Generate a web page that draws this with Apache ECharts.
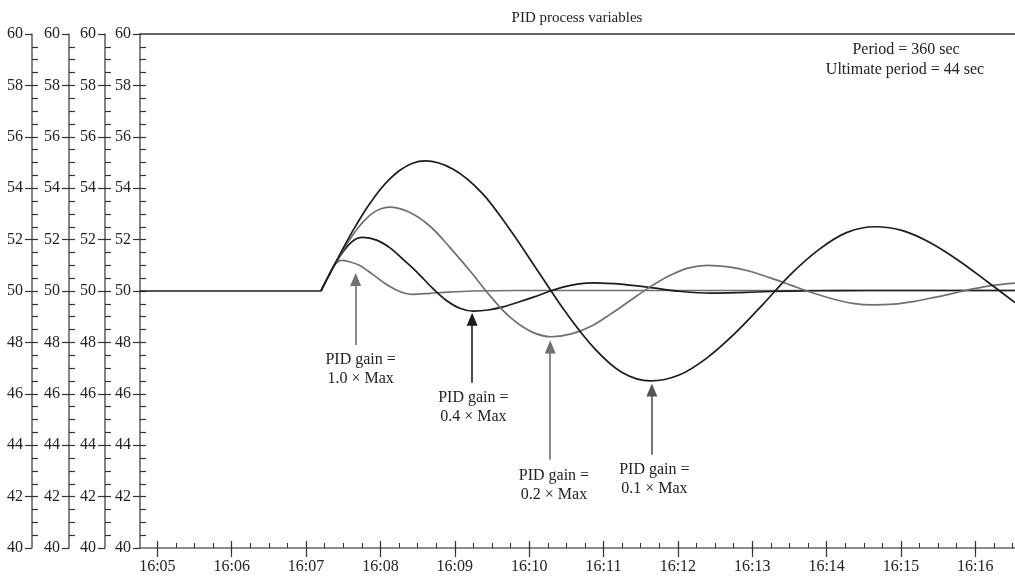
<!DOCTYPE html>
<html>
<head>
<meta charset="utf-8">
<script src="https://cdn.jsdelivr.net/npm/echarts@6/dist/echarts.min.js"></script>
<style>
  html, body { margin: 0; padding: 0; background: #fff; }
  #chart { width: 1015px; height: 577px; }
</style>
</head>
<body>
<div id="chart"></div>
<script>
// Steady level before the disturbance (shared by all four traces)
const timesBaseline = ['16:04:46', '16:07:12'];
const valuesBaseline = [50.0, 50.0];

// Process variable after the disturbance, one trace per PID gain setting
const timesGain10 = ['16:07:12', '16:07:15', '16:07:18', '16:07:21', '16:07:24', '16:07:28', '16:07:35', '16:07:43',
  '16:07:50', '16:07:57', '16:08:04', '16:08:12', '16:08:19', '16:08:26', '16:08:40', '16:08:55', '16:09:15',
  '16:09:50', '16:16:32'];
const valuesGain10 = [50.0, 50.29, 50.57, 50.85, 51.06, 51.19, 51.14, 51.0,
  50.78, 50.53, 50.28, 50.06, 49.92, 49.87, 49.91, 49.96, 50.0,
  50.02, 50.02];

const timesGain04 = ['16:07:12', '16:07:15', '16:07:18', '16:07:21', '16:07:24', '16:07:30', '16:07:36', '16:07:41',
  '16:07:46', '16:07:57', '16:08:08', '16:08:19', '16:08:31', '16:08:42', '16:08:53', '16:09:04', '16:09:15',
  '16:09:27', '16:09:39', '16:09:51', '16:10:04', '16:10:16', '16:10:28', '16:10:40', '16:10:52', '16:11:16',
  '16:11:40', '16:12:03', '16:12:27', '16:12:50', '16:13:15', '16:13:50', '16:14:30', '16:16:32'];
const valuesGain04 = [50.0, 50.29, 50.57, 50.85, 51.1, 51.54, 51.87, 52.04,
  52.09, 51.98, 51.67, 51.2, 50.66, 50.11, 49.64, 49.33, 49.22,
  49.26, 49.38, 49.56, 49.77, 49.98, 50.16, 50.28, 50.32, 50.26,
  50.12, 49.98, 49.92, 49.94, 49.98, 50.01, 50.02, 50.02];

const timesGain02 = ['16:07:12', '16:07:15', '16:07:18', '16:07:21', '16:07:25', '16:07:30', '16:07:36', '16:07:42',
  '16:07:48', '16:07:54', '16:08:00', '16:08:07', '16:08:23', '16:08:40', '16:08:56', '16:09:13', '16:09:29',
  '16:09:45', '16:10:02', '16:10:18', '16:10:34', '16:10:50', '16:11:05', '16:11:21', '16:11:37', '16:11:53',
  '16:12:08', '16:12:24', '16:12:41', '16:12:58', '16:13:14', '16:13:31', '16:13:48', '16:14:05', '16:14:21',
  '16:14:38', '16:14:54', '16:15:10', '16:15:26', '16:15:42', '16:15:58', '16:16:14', '16:16:32'];
const valuesGain02 = [50.0, 50.29, 50.57, 50.85, 51.18, 51.6, 52.06, 52.46,
  52.79, 53.04, 53.19, 53.26, 53.07, 52.52, 51.7, 50.74, 49.78,
  48.96, 48.41, 48.22, 48.33, 48.63, 49.08, 49.61, 50.14, 50.59,
  50.89, 51.0, 50.94, 50.77, 50.52, 50.23, 49.94, 49.69, 49.52,
  49.46, 49.49, 49.59, 49.74, 49.91, 50.08, 50.22, 50.31];

const timesGain01 = ['16:07:12', '16:07:15', '16:07:18', '16:07:21', '16:07:26', '16:07:32', '16:07:38', '16:07:45',
  '16:07:52', '16:08:00', '16:08:08', '16:08:16', '16:08:26', '16:08:36', '16:08:59', '16:09:22', '16:09:44',
  '16:10:07', '16:10:30', '16:10:53', '16:11:15', '16:11:38', '16:12:01', '16:12:23', '16:12:46', '16:13:09',
  '16:13:31', '16:13:54', '16:14:16', '16:14:39', '16:15:02', '16:15:24', '16:15:47', '16:16:10', '16:16:32'];
const valuesGain01 = [50.0, 50.29, 50.57, 50.85, 51.31, 51.85, 52.37, 52.93,
  53.44, 53.96, 54.38, 54.71, 54.97, 55.06, 54.73, 53.81, 52.42,
  50.78, 49.14, 47.75, 46.83, 46.5, 46.73, 47.38, 48.35, 49.5,
  50.65, 51.62, 52.27, 52.5, 52.34, 51.87, 51.17, 50.35, 49.55];

// Axis ranges and tick labels
const xStart = '16:04:46';
const xEnd = '16:16:32';
const xTickLabels = ['16:05', '16:06', '16:07', '16:08', '16:09', '16:10', '16:11', '16:12',
  '16:13', '16:14', '16:15', '16:16'];
const yTickLabels = [40, 42, 44, 46, 48, 50, 52, 54, 56, 58, 60];

// Callout text and the points the arrows / captions are anchored to
const gainCaptions = ['PID gain =\n1.0 × Max', 'PID gain =\n0.4 × Max', 'PID gain =\n0.2 × Max', 'PID gain =\n0.1 × Max'];
const arrowTimes = ['16:07:40', '16:09:14', '16:10:17', '16:11:39'];
const arrowBase = [47.9, 46.43, 43.43, 43.63];
const arrowTip = [50.45, 48.9, 47.82, 46.15];
const captionTimes = ['16:07:44', '16:09:15', '16:10:20', '16:11:41'];
const captionValues = [46.96, 45.46, 42.44, 42.66];

function toSec(clock) {
  const p = clock.split(':').map(Number);
  return p[0] * 3600 + p[1] * 60 + (p[2] || 0);
}
function pairs(times, values) {
  return times.map((t, i) => [toSec(t), values[i]]);
}
function clockLabel(sec) {
  const h = Math.floor(sec / 3600);
  const m = Math.floor((sec % 3600) / 60);
  return h + ':' + String(m).padStart(2, '0');
}

const FONT = '"Liberation Serif", "DejaVu Serif", serif';
const GREY = '#707070';
const BLACK = '#1c1c1c';
const AXIS = '#666666';
const TICK = '#333333';

const xMin = toSec(xStart);
const xMax = toSec(xEnd);
const majorX = xTickLabels.map(toSec);
const minorX = [];
for (let s = Math.ceil(xMin / 15) * 15; s <= xMax; s += 15) minorX.push(s);
const minorY = [];
for (let v = 40.5; v < 60; v += 0.5) minorY.push(v);

// Four stacked scales on the left. Each has outward major ticks with labels,
// plus a companion axis shifted 6px toward the plot whose outward ticks
// reach back to the scale line, giving the inner (right-hand) tick marks.
const axisOffsets = [0, 35, 71, 108];
const INNER_Y = 6;
const yAxes = [];
axisOffsets.forEach((off) => {
  yAxes.push({
    type: 'value', position: 'left', offset: off, min: 40, max: 60, interval: 2,
    axisLine: { show: true, lineStyle: { color: AXIS, width: 1.6 } },
    axisTick: { show: true, inside: false, length: 7, lineStyle: { color: TICK, width: 1.2 } },
    axisLabel: { show: true, margin: 9, fontSize: 16, fontFamily: FONT, color: '#222', customValues: yTickLabels },
    splitLine: { show: false }
  });
  yAxes.push({
    type: 'value', position: 'left', offset: off - INNER_Y, min: 40, max: 60,
    axisLine: { show: false },
    axisTick: { show: true, inside: false, length: INNER_Y, customValues: minorY, lineStyle: { color: TICK, width: 1.2 } },
    axisLabel: { show: false },
    splitLine: { show: false }
  });
});

// Bottom time axis: major ticks cross the line, minor ticks every 15 s sit above it
const xAxes = [
  {
    type: 'value', position: 'bottom', min: xMin, max: xMax,
    axisLine: { show: true, lineStyle: { color: AXIS, width: 1.6 } },
    axisTick: { show: true, inside: false, length: 9, customValues: majorX, lineStyle: { color: TICK, width: 1.2 } },
    axisLabel: {
      show: true, margin: 11, fontSize: 16, fontFamily: FONT, color: '#222',
      customValues: majorX, formatter: (v) => clockLabel(v)
    },
    splitLine: { show: false }
  },
  {
    type: 'value', position: 'bottom', offset: -7, min: xMin, max: xMax,
    axisLine: { show: false },
    axisTick: { show: true, inside: false, length: 7, customValues: majorX, lineStyle: { color: TICK, width: 1.2 } },
    axisLabel: { show: false }, splitLine: { show: false }
  },
  {
    type: 'value', position: 'bottom', offset: -5, min: xMin, max: xMax,
    axisLine: { show: false },
    axisTick: { show: true, inside: false, length: 5, customValues: minorX, lineStyle: { color: TICK, width: 1.1 } },
    axisLabel: { show: false }, splitLine: { show: false }
  },
  {
    type: 'value', position: 'top', min: xMin, max: xMax,
    axisLine: { show: true, lineStyle: { color: '#333', width: 1.5 } },
    axisTick: { show: false }, axisLabel: { show: false }, splitLine: { show: false }
  }
];

const traces = [
  { name: '1.0 × Max', times: timesGain10, values: valuesGain10, color: GREY, arrowColor: GREY },
  { name: '0.4 × Max', times: timesGain04, values: valuesGain04, color: BLACK, arrowColor: BLACK },
  { name: '0.2 × Max', times: timesGain02, values: valuesGain02, color: GREY, arrowColor: GREY },
  { name: '0.1 × Max', times: timesGain01, values: valuesGain01, color: BLACK, arrowColor: '#555' }
];

const series = [{
  name: 'baseline',
  type: 'line',
  data: pairs(timesBaseline, valuesBaseline),
  symbol: 'none',
  lineStyle: { color: BLACK, width: 1.7 },
  animation: false
}].concat(traces.map((tr, i) => ({
  name: tr.name,
  type: 'line',
  xAxisIndex: 0,
  yAxisIndex: 0,
  data: pairs(tr.times, tr.values),
  smooth: 0.35,
  showSymbol: false,
  symbol: 'none',
  lineStyle: { color: tr.color, width: 1.7 },
  animation: false,
  markLine: {
    silent: true,
    animation: false,
    symbol: ['none', 'triangle'],
    symbolSize: [11, 13],
    label: { show: false },
    lineStyle: { color: tr.arrowColor, width: 1.6, type: 'solid' },
    itemStyle: { color: tr.arrowColor },
    data: [[
      { coord: [toSec(arrowTimes[i]), arrowBase[i]] },
      { coord: [toSec(arrowTimes[i]), arrowTip[i]] }
    ]]
  },
  markPoint: {
    silent: true,
    animation: false,
    symbol: 'circle',
    symbolSize: 1,
    itemStyle: { color: 'transparent' },
    label: {
      show: true, position: 'inside', formatter: gainCaptions[i],
      fontSize: 16, lineHeight: 19, fontFamily: FONT, color: '#222', align: 'center'
    },
    data: [{ coord: [toSec(captionTimes[i]), captionValues[i]] }]
  }
})));

const chart = echarts.init(document.getElementById('chart'), null, { renderer: 'canvas' });
chart.setOption({
  backgroundColor: '#fff',
  animation: false,
  grid: { left: 140, right: 0, top: 34, bottom: 29, containLabel: false, outerBoundsMode: 'none' },
  xAxis: xAxes,
  yAxis: yAxes,
  series: series,
  graphic: [
    { type: 'text', x: 577, y: 18, style: { text: 'PID process variables', font: '15px ' + FONT, fill: '#222', textAlign: 'center', textVerticalAlign: 'middle' } },
    { type: 'text', x: 906, y: 50, style: { text: 'Period = 360 sec', font: '16px ' + FONT, fill: '#222', textAlign: 'center', textVerticalAlign: 'middle' } },
    { type: 'text', x: 905, y: 70, style: { text: 'Ultimate period = 44 sec', font: '16px ' + FONT, fill: '#222', textAlign: 'center', textVerticalAlign: 'middle' } }
  ]
});
</script>
</body>
</html>
